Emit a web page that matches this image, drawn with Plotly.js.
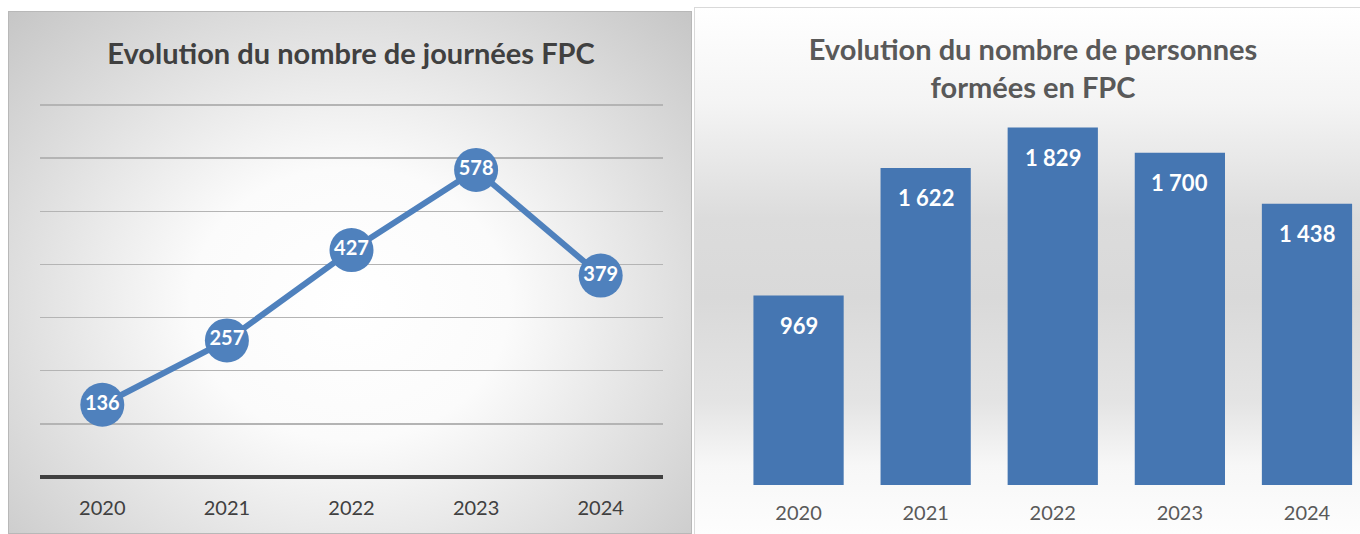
<!DOCTYPE html>
<html>
<head>
<meta charset="utf-8">
<script src="https://cdn.plot.ly/plotly-3.0.1.min.js"></script>
<style>
  html, body { margin:0; padding:0; background:#ffffff; width:1360px; height:534px; overflow:hidden; }
  #left {
    position:absolute; left:8px; top:11px; width:684px; height:523px;
    box-sizing:border-box; border:1px solid #b8b8b8;
    background: radial-gradient(ellipse farthest-corner at 50% 56%, #ffffff 0%, #fbfbfb 33%, #e4e4e4 62%, #c6c6c6 100%);
  }
  #right {
    position:absolute; left:694px; top:7px; width:666px; height:527px;
    box-sizing:border-box; border:1px solid #d9d9d9; border-right:none; border-bottom:none;
    background: linear-gradient(to bottom, #ffffff 0%, #f4f4f4 18%, #dcdcdc 40%, #d9d9d9 55%, #e4e4e4 75%, #f7f7f7 87%, #fdfdfd 100%);
  }
</style>
</head>
<body>
<div id="left"></div>
<div id="right"></div>
<script>
// ----- data -----
var years = ["2020", "2021", "2022", "2023", "2024"];
var journees = [136, 257, 427, 578, 379];
var personnes = [969, 1622, 1829, 1700, 1438];
var titleLeft = "Evolution du nombre de journées FPC";
var titleRight = "Evolution du nombre de personnes<br>formées en FPC";

function fmtFr(v) {
  return String(v).replace(/\B(?=(\d{3})+(?!\d))/g, "\u00a0");
}

var FONT = "Lato, 'Open Sans', sans-serif";
var BLUE = "#4f81bd";

// ----- left chart: line -----
var leftTrace = {
  type: "scatter",
  mode: "lines+markers+text",
  x: years,
  y: journees,
  text: journees.map(fmtFr),
  textposition: "middle center",
  textfont: { family: FONT, size: 20, color: "#ffffff", weight: "bold" },
  line: { color: BLUE, width: 6 },
  marker: { color: BLUE, size: 44, line: { width: 0 } },
  cliponaxis: false,
  hoverinfo: "skip"
};

var leftLayout = {
  width: 684, height: 523,
  paper_bgcolor: "rgba(0,0,0,0)",
  plot_bgcolor: "rgba(0,0,0,0)",
  margin: { l: 31, r: 30, t: 92, b: 58 },
  showlegend: false,
  title: {
    text: "<b>" + titleLeft + "</b>",
    font: { family: FONT, size: 29, color: "#404040" },
    xref: "container", x: 0.5, xanchor: "center",
    yref: "container", y: 1 - 42 / 523, yanchor: "middle"
  },
  xaxis: {
    type: "category",
    range: [-0.5, 4.5],
    showgrid: false,
    zeroline: false,
    showline: false,
    ticks: "",
    tickfont: { family: FONT, size: 20, color: "#404040" },
    ticklabelstandoff: 17,
    fixedrange: true
  },
  yaxis: {
    range: [0, 702],
    dtick: 100,
    showgrid: true,
    gridcolor: "#b4b4b4",
    gridwidth: 1.5,
    zeroline: true,
    zerolinecolor: "#404040",
    zerolinewidth: 3.5,
    showticklabels: false,
    ticks: "",
    fixedrange: true
  }
};

Plotly.newPlot("left", [leftTrace], leftLayout, { staticPlot: true, displayModeBar: false });

// ----- right chart: bars -----
var rightTrace = {
  type: "bar",
  x: [0, 1, 2, 3, 4],
  y: personnes,
  marker: { color: "#4576b2", line: { width: 0 } },
  width: 0.71,
  hoverinfo: "skip"
};

var rightAnnotations = personnes.map(function (v, i) {
  return {
    x: i, y: v, xref: "x", yref: "y",
    text: "<b>" + fmtFr(v) + "</b>",
    showarrow: false,
    yanchor: "middle",
    yshift: -30,
    font: { family: FONT, size: 22, color: "#ffffff" }
  };
});

var rightLayout = {
  width: 666, height: 527,
  paper_bgcolor: "rgba(0,0,0,0)",
  plot_bgcolor: "rgba(0,0,0,0)",
  margin: { l: 40, r: 0, t: 86, b: 50 },
  showlegend: false,
  title: {
    text: "<b>" + titleRight + "</b>",
    font: { family: FONT, size: 29, color: "#595959" },
    xref: "container", x: 338 / 666, xanchor: "center",
    yref: "container", y: 1 - 52 / 527, yanchor: "middle"
  },
  xaxis: {
    range: [-0.5, 4.425],
    tickmode: "array",
    tickvals: [0, 1, 2, 3, 4],
    ticktext: years,
    showgrid: false,
    zeroline: false,
    showline: false,
    ticks: "",
    tickfont: { family: FONT, size: 20, color: "#595959" },
    ticklabelstandoff: 14,
    fixedrange: true
  },
  yaxis: {
    range: [0, 2000],
    showgrid: false,
    zeroline: false,
    showline: false,
    showticklabels: false,
    ticks: "",
    fixedrange: true
  },
  annotations: rightAnnotations
};

Plotly.newPlot("right", [rightTrace], rightLayout, { staticPlot: true, displayModeBar: false });
</script>
</body>
</html>
